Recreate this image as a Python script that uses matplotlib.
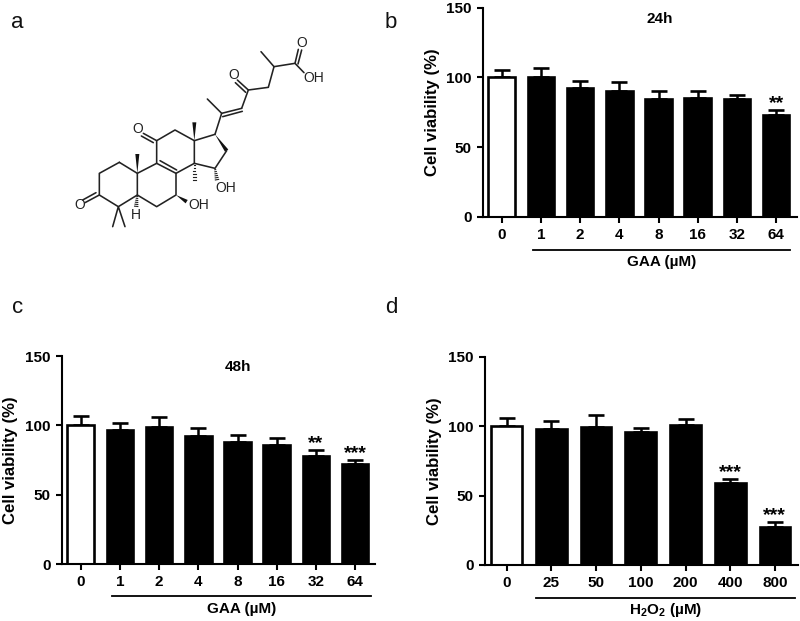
import numpy as np
import matplotlib
matplotlib.use('Agg')
import matplotlib.pyplot as plt
from matplotlib.patches import Polygon

plt.rcParams['font.family'] = ['Liberation Sans', 'DejaVu Sans']
plt.rcParams['mathtext.fontset'] = 'custom'
plt.rcParams['mathtext.bf'] = 'Liberation Sans:bold'
plt.rcParams['mathtext.rm'] = 'Liberation Sans:bold'

# Bar data
labels_b = ['0', '1', '2', '4', '8', '16', '32', '64']
means_b = [100, 100.5, 92.6, 90.5, 84.8, 85.5, 84.3, 72.9]
upper_b = [105, 107, 97.6, 97, 90, 90, 87.4, 76.4]
stars_b = ['', '', '', '', '', '', '', '**']

labels_c = ['0', '1', '2', '4', '8', '16', '32', '64']
means_c = [100.5, 96.4, 99, 92.5, 88, 85.6, 77.9, 72.4]
upper_c = [106.5, 101.7, 105.8, 97.8, 93, 90.9, 82, 74.8]
stars_c = ['', '', '', '', '', '', '**', '***']

labels_d = ['0', '25', '50', '100', '200', '400', '800']
means_d = [100, 97.7, 99.6, 95.8, 101, 58.8, 27.6]
upper_d = [105.6, 103.7, 108, 99, 104.9, 62, 30.7]
stars_d = ['', '', '', '', '', '***', '***']

# Structure of panel a, in pixels of the 3x crop
bonds = [
    [(358, 487), (298, 520), (298, 585), (355, 620), (412, 585), (412, 520), (358, 487)],
    [(412, 520), (470, 490), (528, 520), (528, 585), (470, 620), (412, 585)],
    [(470, 490), (470, 422), (525, 390), (583, 422), (583, 490), (528, 520)],
    [(583, 422), (645, 403)],
    [(680, 452), (645, 505), (583, 490)],
    [(338, 680), (355, 620), (375, 680)],
    [(645, 403), (665, 340), (622, 297)],
    [(725, 325), (745, 270), (805, 262), (822, 200), (783, 155)],
    [(822, 200), (885, 190), (912, 218)],
]
double_bonds = [
    [(298, 585), (255, 608)], [(288, 578), (248, 600)],
    [(480, 482), (530, 510)],
    [(470, 422), (430, 400)], [(460, 428), (424, 408)],
    [(665, 340), (725, 325)], [(668, 350), (727, 334)],
    [(745, 270), (712, 240)], [(737, 277), (706, 248)],
    [(885, 190), (895, 148)], [(894, 192), (905, 150)],
]
wedges = [
    [(412, 520), (412, 462)],
    [(583, 422), (583, 367)],
    [(645, 403), (680, 452)],
    [(528, 585), (560, 605)],
]
hashes = [
    [(412, 585), (408, 625)],
    [(583, 490), (583, 550)],
    [(645, 505), (652, 545)],
]
atoms = [
    ('O', 240, 615), ('O', 413, 388), ('O', 700, 225), ('O', 905, 130),
    ('OH', 942, 235), ('OH', 595, 616), ('OH', 677, 563), ('H', 408, 646),
]

fig = plt.figure(figsize=(8, 6.21), dpi=100)
W, H = 800, 621


def bar_panel(left, right, top, bottom, first, step, labels, means, upper, stars,
              title, xlabel, line_y, label_y, bar_w, ylabel_x):
    ax = fig.add_axes([left / W, 1 - bottom / H, (right - left) / W, (bottom - top) / H])
    x = np.arange(len(labels))
    ax.set_xlim((left - first) / step, (right - first) / step)
    ax.set_ylim(0, 150)

    w = bar_w / step
    colors = ['white'] + ['black'] * (len(labels) - 1)
    ax.bar(x, means, width=w - 0.04, color=colors, edgecolor='black', linewidth=1.9, zorder=2)
    ax.errorbar(x, means, yerr=[np.zeros(len(x)), np.array(upper) - np.array(means)],
                fmt='none', ecolor='black', elinewidth=1.8, capsize=5.6, capthick=1.9, zorder=1)

    for sp in ['top', 'right']:
        ax.spines[sp].set_visible(False)
    for sp in ['left', 'bottom']:
        ax.spines[sp].set_linewidth(1.5)
    ax.set_yticks([0, 50, 100, 150])
    ax.set_xticks(x)
    ax.set_xticklabels(labels)
    ax.tick_params(width=1.5, length=4.5, labelsize=11, pad=3.5)
    for t in ax.get_xticklabels() + ax.get_yticklabels():
        t.set_fontweight('bold')
    ax.set_ylabel('Cell viability (%)', fontsize=12.1, fontweight='bold')
    ax.yaxis.set_label_coords((ylabel_x - left) / (right - left), 0.5)

    for xi, u, s in zip(x, upper, stars):
        if s:
            ax.text(xi, u - 1.5, s, ha='center', va='bottom', fontsize=14, fontweight='bold')
    if title:
        ax.text(title[1], 142, title[0], ha='center', va='center',
                fontsize=11, fontweight='bold')

    scale = (bottom - top) / 150
    ax.plot([xlabel[1], xlabel[2]], [(bottom - line_y) / scale] * 2, color='black',
            lw=1.3, clip_on=False)
    ax.text((xlabel[1] + xlabel[2]) / 2, (bottom - label_y) / scale, xlabel[0], ha='center',
            va='center', fontsize=11, fontweight='bold', clip_on=False)
    return ax


bar_panel(482.7, 797, 7.5, 217, 501.7, 39.2, labels_b, means_b, upper_b, stars_b,
          ('24h', 4.04), ('GAA (µM)', 0.8, 7.35), 250, 262, 28, 440)
bar_panel(61.7, 375, 356, 564, 80.7, 39.2, labels_c, means_c, upper_c, stars_c,
          ('48h', 4.01), ('GAA (µM)', 0.8, 7.4), 596, 609, 28, 18)
bar_panel(485, 798, 356.7, 565, 506.7, 44.7, labels_d, means_d, upper_d, stars_d,
          None, ('H$_{2}$O$_{2}$ (µM)', 0.65, 6.45), 598, 610, 32.5, 442)

# Overlay in picture pixels for panel a and the panel letters
over = fig.add_axes([0, 0, 1, 1], facecolor='none')
over.set_xlim(0, W)
over.set_ylim(H, 0)
over.axis('off')

for letter, px, py in [('a', 17.5, 28), ('b', 391, 28), ('c', 17.5, 313), ('d', 391, 313)]:
    over.text(px, py, letter, ha='center', va='baseline', fontsize=16, color='#111111')

for chain in bonds + double_bonds:
    pts = np.array(chain) / 3
    over.plot(pts[:, 0], pts[:, 1], color='#222222', lw=1.15, solid_capstyle='round')

for (a, b) in wedges:
    a, b = np.array(a) / 3, np.array(b) / 3
    n = np.array([-(b - a)[1], (b - a)[0]])
    n = n / np.linalg.norm(n) * 2.0
    over.add_patch(Polygon([a, b + n, b - n], closed=True, color='#111111', lw=0))

for (a, b) in hashes:
    a, b = np.array(a) / 3, np.array(b) / 3
    n = np.array([-(b - a)[1], (b - a)[0]])
    n = n / np.linalg.norm(n)
    for t in np.linspace(0.1, 0.85, 6):
        c = a + (b - a) * t
        hw = 0.3 + 1.6 * t
        over.plot([c[0] - n[0] * hw, c[0] + n[0] * hw], [c[1] - n[1] * hw, c[1] + n[1] * hw],
                  color='#222222', lw=0.8)

for name, px, py in atoms:
    over.text(px / 3, py / 3, name, ha='center', va='center', fontsize=10, color='#222222')

fig.savefig('out.png', dpi=100)
